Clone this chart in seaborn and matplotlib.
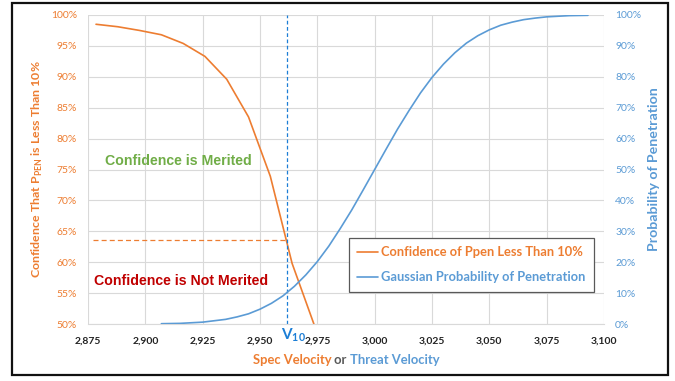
import matplotlib
matplotlib.use("Agg")
import matplotlib.pyplot as plt
import seaborn as sns
import pandas as pd
from matplotlib.patches import Rectangle
from matplotlib.offsetbox import TextArea, HPacker, AnnotationBbox

# ---------------- data ----------------
conf_velocity = [2878.5, 2888.0, 2897.5, 2907.0, 2916.5, 2926.0, 2935.5, 2945.0, 2954.5, 2964.0, 2973.5]
conf_values = [98.5, 98.1, 97.5, 96.8, 95.4, 93.3, 89.6, 83.5, 73.9, 59.8, 50.0]

pen_velocity = [2907, 2915, 2925, 2935, 2940, 2945, 2950, 2955, 2960, 2965, 2970, 2975,
                2980, 2985, 2990, 2995, 3000, 3005, 3010, 3015, 3020, 3025, 3030, 3035,
                3040, 3045, 3050, 3055, 3060, 3065, 3070, 3075, 3085, 3093]
pen_values = [0.1, 0.2, 0.6, 1.5, 2.3, 3.3, 4.8, 6.7, 9.1, 12.2, 15.9, 20.2,
              25.2, 30.9, 36.9, 43.4, 50.0, 56.6, 63.1, 69.1, 74.8, 79.8, 84.1, 87.8,
              90.9, 93.3, 95.2, 96.7, 97.7, 98.5, 99.0, 99.4, 99.8, 99.9]

v10 = 2961.8
conf_at_v10 = 63.6

x_ticks = [2875, 2900, 2925, 2950, 2975, 3000, 3025, 3050, 3075, 3100]
x_tick_labels = ["2,875", "2,900", "2,925", "2,950", "2,975", "3,000", "3,025", "3,050", "3,075", "3,100"]
left_ticks = [50, 55, 60, 65, 70, 75, 80, 85, 90, 95, 100]
right_ticks = [0, 10, 20, 30, 40, 50, 60, 70, 80, 90, 100]

legend_conf = "Confidence of Ppen Less Than 10%"
legend_pen = "Gaussian Probability of Penetration"

ORANGE = "#ED7D31"
BLUE = "#5B9BD5"
VBLUE = "#1C7ED6"
GREEN = "#70AD47"
RED = "#C00000"
GRID = "#D9D9D9"

# ---------------- style ----------------
sns.set_theme(style="white")
plt.rcParams["font.family"] = ["Lato", "DejaVu Sans"]
plt.rcParams["mathtext.fontset"] = "custom"
plt.rcParams["mathtext.rm"] = "Lato"
plt.rcParams["mathtext.bf"] = "Lato:bold"

fig = plt.figure(figsize=(6.75, 3.81), dpi=100)
ax = fig.add_axes([88 / 675, 1 - 324 / 381, (604 - 88) / 675, (324 - 15) / 381])
ax2 = ax.twinx()

df_conf = pd.DataFrame({"v": conf_velocity, "c": conf_values})
df_pen = pd.DataFrame({"v": pen_velocity, "p": pen_values})

sns.lineplot(data=df_conf, x="v", y="c", ax=ax, color=ORANGE, linewidth=1.2,
             label=legend_conf, legend=False)
sns.lineplot(data=df_pen, x="v", y="p", ax=ax2, color=BLUE, linewidth=1.2,
             label=legend_pen, legend=False)

# reference lines
ax.plot([2877, v10], [conf_at_v10, conf_at_v10], color=ORANGE, lw=0.9, ls=(0, (4, 2.5)))
ax.axvline(v10, color=VBLUE, lw=0.9, ls=(0, (3, 2)))

ax.set_xlim(2875, 3100)
ax.set_ylim(50, 100)
ax2.set_ylim(0, 100)

ax.set_xticks(x_ticks)
ax.set_xticklabels(x_tick_labels)
ax.set_yticks(left_ticks)
ax.set_yticklabels([f"{t}%" for t in left_ticks])
ax2.set_yticks(right_ticks)
ax2.set_yticklabels([f"{t}%" for t in right_ticks])

ax.grid(True, color=GRID, lw=0.8)
ax.set_axisbelow(True)
for a in (ax, ax2):
    for s in a.spines.values():
        s.set_visible(False)
ax.spines["bottom"].set_visible(True)
ax.spines["bottom"].set_color(GRID)
ax.spines["bottom"].set_linewidth(0.8)

ax.tick_params(axis="y", length=0, pad=8, labelsize=7.5, labelcolor=ORANGE)
ax.tick_params(axis="x", length=0, pad=9, labelsize=7.5, labelcolor="#222222")
for lab in ax.get_xticklabels():
    lab.set_fontweight("bold")
ax2.tick_params(axis="y", length=0, pad=8, labelsize=7.5, labelcolor=BLUE)

ax.set_xlabel("")
ax.set_ylabel(r"Confidence That P$_{\mathbf{PEN}}$ is Less Than 10%", color=ORANGE,
              fontsize=8.9, fontweight="bold", labelpad=4)
ax2.set_ylabel("Probability of Penetration", color=BLUE, fontsize=10.2,
               fontweight="bold", labelpad=5)

# region annotations
ax.text(2882.5, 76.4, "Confidence is Merited", color=GREEN, fontsize=10.2,
        fontweight="bold", va="center", ha="left", family="Liberation Sans")
ax.text(2877.5, 57.0, "Confidence is Not Merited", color=RED, fontsize=10.2,
        fontweight="bold", va="center", ha="left", family="Liberation Sans")

# V10 label
ax.annotate(r"$\mathbf{V}_{\mathbf{10}}$", xy=(v10, 50), xycoords="data",
            xytext=(-4.5, -2), textcoords="offset points", ha="left", va="top",
            color=VBLUE, fontsize=11, annotation_clip=False)

# multi-coloured x label
parts = [("Spec Velocity", ORANGE), (" or ", "#595959"), ("Threat Velocity", BLUE)]
areas = [TextArea(t, textprops=dict(color=c, fontsize=9.4, fontweight="bold")) for t, c in parts]
box = HPacker(children=areas, align="baseline", pad=0, sep=0)
ab = AnnotationBbox(box, (0.5, -0.117), xycoords="axes fraction", box_alignment=(0.5, 0.5),
                    frameon=False, annotation_clip=False)
ax.add_artist(ab)

# legend
h1, l1 = ax.get_legend_handles_labels()
h2, l2 = ax2.get_legend_handles_labels()
leg = ax2.legend(h1[:1] + h2, l1[:1] + l2, loc="upper left", bbox_to_anchor=(0.506, 0.278),
                 borderaxespad=0, frameon=True, fancybox=False, edgecolor="#595959",
                 framealpha=1, prop=dict(weight="bold", size=9.3), labelcolor="linecolor",
                 handlelength=1.6, handletextpad=0.25, labelspacing=1.0, borderpad=0.65)
leg.get_frame().set_linewidth(0.9)

# outer frame
fig.patches.append(Rectangle((12 / 675, 1 - 375 / 381), 656 / 675, 372 / 381,
                             transform=fig.transFigure, fill=False, edgecolor="#111111",
                             linewidth=1.6))

fig.savefig("out.png", dpi=100)
